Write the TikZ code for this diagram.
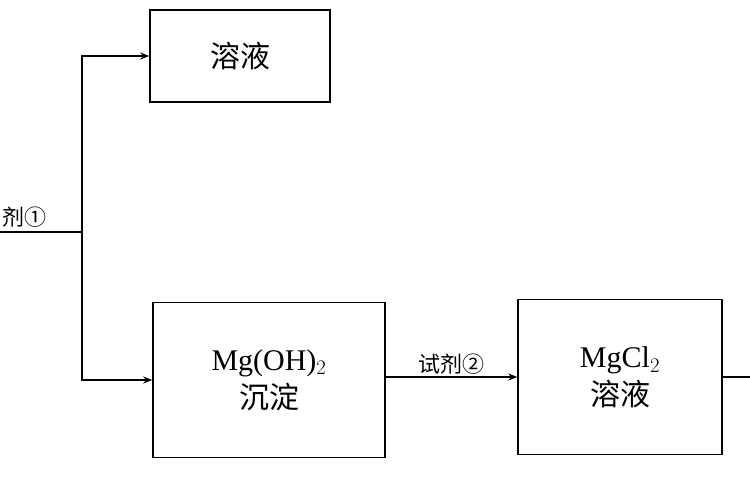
\documentclass[tikz,border=0pt]{standalone}
\usepackage{fontspec}
\setmainfont{Liberation Serif}
\newfontfamily\cjk{Noto Sans CJK SC}
\usetikzlibrary{positioning,arrows.meta}
\tikzset{
  box/.style={draw, line width=1.5pt, align=center, font=\fontsize{30}{36}\selectfont},
  lbl/.style={font=\cjk\fontsize{22}{26}\selectfont, inner sep=2pt}
}
\begin{document}
\begin{tikzpicture}[x=1pt, y=-1pt, >={Stealth[length=9pt,width=7pt]}, line width=1.5pt]
\useasboundingbox (0,0) rectangle (750,500);
% Kaesten
\node[box, minimum width=180pt, minimum height=92pt] (top) at (240,56) {\cjk 溶液};
\node[box, minimum width=232pt, minimum height=155pt] (mgoh) at (269,380) {Mg(OH)$_2$\\[2pt]\cjk 沉淀};
\node[box, minimum width=204pt, minimum height=155pt] (mgcl) at (620,377) {MgCl$_2$\\[2pt]\cjk 溶液};
% Verbindungen
\coordinate (in) at (0,232);
\coordinate (split) at (82,232);
\coordinate (out) at (750,377);
\node[lbl, anchor=south west] (r1) at (0,230) {剂①};
\draw (in) -- (split);
\draw[->] (split) |- (top.west);
\draw[->] (split) |- (mgoh.west);
\draw[->] (mgoh.east |- mgcl.west) -- node[lbl, above] (r2) {试剂②} (mgcl.west);
\draw (mgcl.east) -- (out);
\end{tikzpicture}
\end{document}
